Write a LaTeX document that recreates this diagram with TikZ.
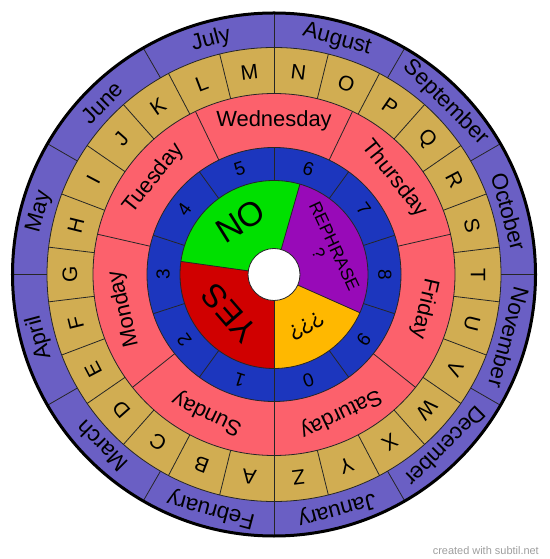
\documentclass[tikz,border=0pt]{standalone}
\usepackage{fontspec}
\setmainfont{Liberation Sans}
\usepackage{tikz}
\usetikzlibrary{calc}

\definecolor{monthblue}{RGB}{106,95,196}
\definecolor{lettertan}{RGB}{209,173,82}
\definecolor{daypink}{RGB}{252,97,108}
\definecolor{numblue}{RGB}{28,54,190}
\definecolor{nogreen}{RGB}{0,224,0}
\definecolor{rephpurple}{RGB}{152,10,184}
\definecolor{askorange}{RGB}{255,184,0}
\definecolor{yesred}{RGB}{208,0,0}

\begin{document}
\begin{tikzpicture}[x=1bp, y=1bp,
    sep/.style={draw=black!85, line width=0.8bp},
    lbl/.style={inner sep=0pt, font=\fontsize{#1}{#1}\selectfont}]
    \useasboundingbox (-274,-284.5) rectangle (276,274.5);
    \coordinate (c) at (0,0);
    % rings, outside in
    \fill[monthblue] (c) circle (262);
    \fill[lettertan] (c) circle (227);
    \fill[daypink] (c) circle (181);
    \fill[numblue] (c) circle (127);
    % inner wheel
    \foreach \a/\b/\col in {74/172/nogreen, 172/270/yesred, 270/336/askorange, -24/74/rephpurple}
        \fill[\col] (\a:26) arc (\a:\b:26) -- (\b:94) arc (\b:\a:94) -- cycle;
    \fill[white] (c) circle (26);
    % separators
    \foreach \a in {0,30,...,330}
        \draw[sep] (\a:227) -- (\a:261);
    \foreach \k in {1,...,26}
        \draw[sep] ({270-\k*360/26}:181) -- ({270-\k*360/26}:227);
    \foreach \k in {0,...,6}
        \draw[sep] ({90+(\k+0.5)*360/7}:127) -- ({90+(\k+0.5)*360/7}:181);
    \foreach \a in {18,54,...,342}
        \draw[sep] (\a:94) -- (\a:127);
    \foreach \a in {74,172,270,336}
        \draw[sep] (\a:26) -- (\a:94);
    \foreach \r in {26,94,127,181,227}
        \draw[sep] (c) circle (\r);
    \draw[line width=3bp] (c) circle (261.5);
    % labels
    \foreach \m [count=\k] in {January,February,March,April,May,June,July,August,September,October,November,December}
        \node[lbl=22.5, rotate=225-30*\k] (mon\k) at ({315-30*\k}:243) {\m};
    \foreach \l [count=\k] in {A,B,C,D,E,F,G,H,I,J,K,L,M,N,O,P,Q,R,S,T,U,V,W,X,Y,Z}
        \node[lbl=21, rotate={180-(\k-0.5)*360/26}] (let\k) at ({270-(\k-0.5)*360/26}:204) {\l};
    \foreach \d [count=\k from 0] in {Sunday,Monday,Tuesday,Wednesday,Thursday,Friday,Saturday}
        \node[lbl=22, rotate={(3-\k)*360/7}] (day\k) at ({90+(3-\k)*360/7}:154) {\d};
    \foreach \n in {0,...,9}
        \node[lbl=19, rotate=198-36*\n] (num\n) at ({288-36*\n}:111) {\n};
    \node[lbl=34, rotate=32] (no) at (122:63) {NO};
    \node[lbl=33, rotate=131] (yes) at (221:59) {YES};
    \node[lbl=17.5, rotate=-65, align=center] (rephrase) at (25:58) {REPHRASE\\?};
    \node[lbl=22, rotate=-148] (ask) at (-58:61) {???};
    \node[lbl=11, text=black!38, anchor=south east] (credit) at (265,-280) {created with subtil.net};
\end{tikzpicture}
\end{document}
